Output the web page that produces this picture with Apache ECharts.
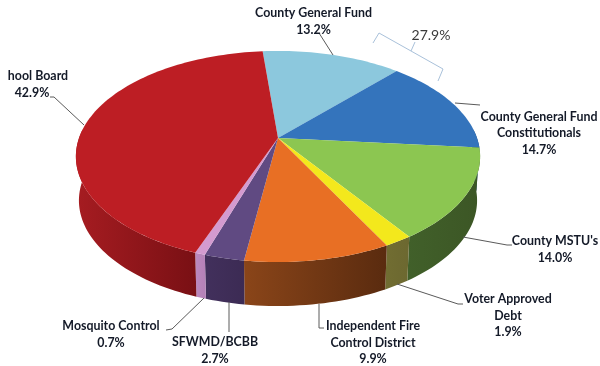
<!DOCTYPE html>
<html>
<head>
<meta charset="utf-8">
<style>html,body{margin:0;padding:0;background:#fff}#chart{width:600px;height:366px}</style>
<script src="https://cdn.jsdelivr.net/npm/echarts@6/dist/echarts.min.js"></script>
</head>
<body>
<div id="chart"></div>
<script>
// Slices in clockwise order, starting from the top of the pie.
const categories = ['County General Fund', 'County General Fund\nConstitutionals', "County MSTU's",
  'Voter Approved\nDebt', 'Independent Fire\nControl District', 'SFWMD/BCBB', 'Mosquito Control', 'hool Board'];
const shares = [13.2, 14.7, 14.0, 1.9, 9.9, 2.7, 0.7, 42.9];
const bracketTotal = 27.9;

// Face and wall colours, per slice. Walls fade from the left colour to the right one.
const faceColors = ['#8cc8dd', '#3474bc', '#8cc651', '#f3e81c', '#e86f24', '#604a82', '#d49bd0', '#bd1e24'];
const wallLeft = ['#5f8fa0', '#1f4a7a', '#41602a', '#716d32', '#8a4519', '#42305c', '#bb88bd', '#a61c21'];
const wallRight = ['#5f8fa0', '#1f4a7a', '#3c5625', '#6c6830', '#5a2b0f', '#3c2b54', '#b580b8', '#791014'];

// Perspective disc: apex, horizontal scale, vertical scale, foreshortening, wall height.
const pie = { cx: 278, cy: 138, a: 199, b: 102.3, k: -0.175, depth: 44, startDeg: -5.2 };

// Centre x for each text line and y of the first line, plus the leader polyline.
const labelLayout = [
  { xs: [313.5, 313.5], y: 13, leader: [[319, 33], [333, 55]] },
  { xs: [539, 539, 539], y: 116.5, leader: [[455, 103], [480, 105]] },
  { xs: [555, 555], y: 241, leader: [[463, 237], [507, 245], [512, 245]] },
  { xs: [508, 508, 508], y: 299, leader: [[397, 284], [458, 304], [463, 304]] },
  { xs: [373, 373, 373], y: 326, leader: [[319, 304], [319, 328], [324, 328]] },
  { xs: [215, 215], y: 342, leader: [[229, 302], [229, 332]] },
  { xs: [111, 111], y: 326, leader: [[204, 298], [172, 329], [166, 330]] },
  { xs: [38, 32], y: 76, leader: [[50, 97], [54, 97], [84, 125]] }
];
const bracketLine = [[373, 43], [379, 33], [411, 51], [443, 69], [438, 81]];
const bracketStem = [[411, 51], [415, 42]];
const bracketLabel = [431, 35];

const FONT = 'Lato, "Open Sans", sans-serif';
const total = shares.reduce((s, v) => s + v, 0);
const spans = [];
shares.reduce((acc, v) => {
  spans.push([acc, acc + v / total * 360]);
  return acc + v / total * 360;
}, pie.startDeg);

// Project an angle (clockwise from the back of the disc) onto the upper or lower plane.
function rim(deg, lower) {
  const t = deg * Math.PI / 180;
  const u = Math.sin(t), v = -Math.cos(t);
  const w = 1 + pie.k * v;
  const shrink = lower ? 0.985 : 1;
  return [pie.cx + shrink * pie.a * u / w, pie.cy + pie.b * v / w + (lower ? pie.depth : 0)];
}
function arc(from, to, lower) {
  const n = Math.max(2, Math.ceil((to - from) / 1.5));
  const pts = [];
  for (let i = 0; i <= n; i++) pts.push(rim(from + (to - from) * i / n, lower));
  return pts;
}

function renderWall(params, api) {
  const i = params.dataIndex;
  const from = Math.max(spans[i][0], 85), to = Math.min(spans[i][1], 275);
  if (to <= from) return null;
  const pts = arc(from, to, false).concat(arc(from, to, true).reverse()).map(p => api.coord(p));
  return {
    type: 'polygon',
    shape: { points: pts },
    style: {
      fill: new echarts.graphic.LinearGradient(0, 0, 1, 0, [
        { offset: 0, color: wallLeft[i] }, { offset: 1, color: wallRight[i] }
      ])
    }
  };
}
function renderFace(params, api) {
  const i = params.dataIndex;
  const pts = [[pie.cx, pie.cy]].concat(arc(spans[i][0], spans[i][1], false)).map(p => api.coord(p));
  return { type: 'polygon', shape: { points: pts }, style: { fill: faceColors[i] } };
}
function renderLabel(params, api) {
  const i = params.dataIndex;
  const layout = labelLayout[i];
  const lines = categories[i].split('\n').concat(shares[i].toFixed(1) + '%');
  const children = [{
    type: 'polyline',
    shape: { points: layout.leader.map(p => api.coord(p)) },
    style: { fill: 'none', stroke: '#5a5a5a', lineWidth: 1 }
  }];
  lines.forEach((line, n) => {
    const c = api.coord([layout.xs[n], layout.y + n * 16.5]);
    children.push({
      type: 'text',
      style: { text: line, x: c[0], y: c[1], align: 'center', verticalAlign: 'middle',
        fill: '#141a28', font: 'bold 12.4px ' + FONT }
    });
  });
  return { type: 'group', children };
}
function renderBracket(params, api) {
  const c = api.coord(bracketLabel);
  return {
    type: 'group',
    children: [
      { type: 'polyline', shape: { points: bracketLine.map(p => api.coord(p)) },
        style: { fill: 'none', stroke: '#a9c1da', lineWidth: 1 } },
      { type: 'polyline', shape: { points: bracketStem.map(p => api.coord(p)) },
        style: { fill: 'none', stroke: '#a9c1da', lineWidth: 1 } },
      { type: 'text', style: { text: bracketTotal.toFixed(1) + '%', x: c[0], y: c[1], align: 'center',
          verticalAlign: 'middle', fill: '#3a3a3a', font: '14px ' + FONT } }
    ]
  };
}

const sliceData = shares.map((v, i) => [i, v]);
const chart = echarts.init(document.getElementById('chart'), null, { renderer: 'canvas' });
chart.setOption({
  animation: false,
  backgroundColor: '#ffffff',
  grid: { left: 0, right: 0, top: 0, bottom: 0 },
  xAxis: { type: 'value', min: 0, max: 600, show: false },
  yAxis: { type: 'value', min: 0, max: 366, inverse: true, show: false },
  series: [
    { type: 'custom', coordinateSystem: 'cartesian2d', renderItem: renderWall, data: sliceData, z: 1, silent: true, clip: false },
    { type: 'custom', coordinateSystem: 'cartesian2d', renderItem: renderFace, data: sliceData, z: 2, silent: true, clip: false },
    { type: 'custom', coordinateSystem: 'cartesian2d', renderItem: renderLabel, data: sliceData, z: 3, silent: true, clip: false },
    { type: 'custom', coordinateSystem: 'cartesian2d', renderItem: renderBracket, data: [[0, bracketTotal]], z: 3, silent: true, clip: false }
  ]
});
</script>
</body>
</html>
